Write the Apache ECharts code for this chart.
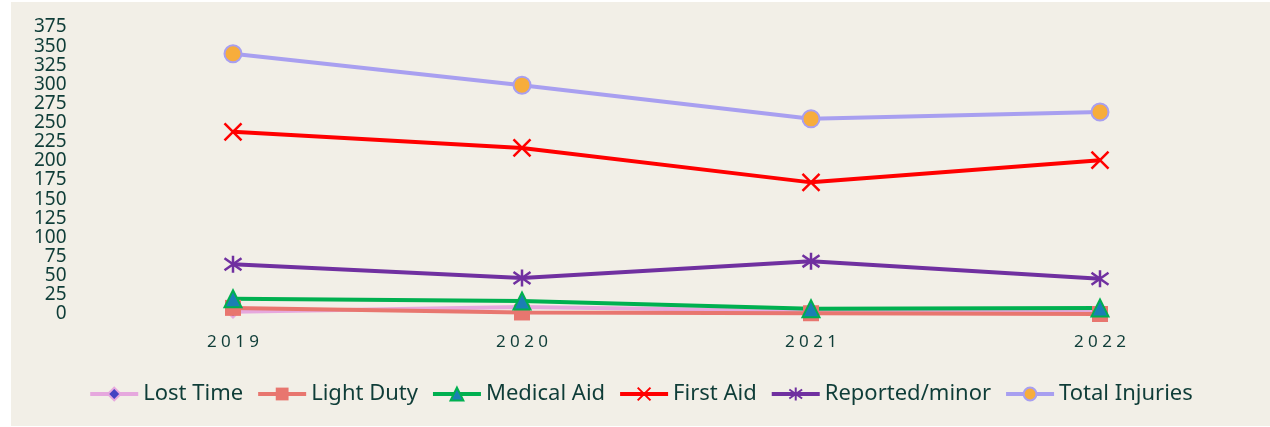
<!DOCTYPE html>
<html>
<head>
<meta charset="utf-8">
<script src="https://cdn.jsdelivr.net/npm/echarts@6/dist/echarts.min.js"></script>
<style>
  body { margin: 0; background: #fff; }
  #chart { position: absolute; left: 11px; top: 2px; width: 1259px; height: 424px; background: #f2efe7; }
</style>
</head>
<body>
<div id="chart"></div>
<script>
// values
const years = ['2019', '2020', '2021', '2022'];
const lostTime = [3, 9, 4, 4];
const lightDuty = [8, 2, 1, 0];
const medicalAid = [20, 17, 7, 8];
const firstAid = [238, 217, 172, 201];
const reportedMinor = [65, 47, 69, 46];
const totalInjuries = [340, 299, 255, 264];

const textColor = '#0f3d38';
const font = '"Noto Sans", sans-serif';

let chart = echarts.init(document.getElementById('chart'));

function line(name, data, color, symbol, size, itemStyle) {
    return {
        name: name,
        type: 'line',
        data: data,
        symbol: symbol,
        symbolSize: size,
        lineStyle: { color: color, width: 4 },
        itemStyle: itemStyle,
        emphasis: { disabled: true }
    };
}

let option = {
    animation: false,
    grid: { left: 77.5, right: 25.5, top: 25, bottom: 112 },
    legend: {
        bottom: 16,
        left: 'center',
        itemWidth: 48,
        itemHeight: 16,
        itemGap: 13,
        lineStyle: { width: 4 },
        textStyle: { color: textColor, fontSize: 22, fontFamily: font }
    },
    xAxis: {
        type: 'category',
        data: years,
        axisLine: { show: false },
        axisTick: { show: false },
        axisLabel: {
            color: textColor,
            fontSize: 17,
            fontFamily: font,
            margin: 20,
            formatter: v => v.split('').join(' ')
        }
    },
    yAxis: {
        type: 'value',
        min: 0,
        max: 375,
        interval: 25,
        splitLine: { show: false },
        axisLine: { show: false },
        axisTick: { show: false },
        axisLabel: { color: textColor, fontSize: 19, fontFamily: font, margin: 22 }
    },
    series: [
        line('Lost Time', lostTime, '#e6a8de', 'diamond', 12,
            { color: '#4343c2', borderColor: '#e6a8de', borderWidth: 2 }),
        line('Light Duty', lightDuty, '#e8766f', 'rect', 16,
            { color: '#e8766f', borderColor: '#e8766f', borderWidth: 0 }),
        line('Medical Aid', medicalAid, '#00b050', 'triangle', 17,
            { color: '#1b7fb4', borderColor: '#00b050', borderWidth: 2 }),
        line('First Aid', firstAid, '#ff0000', 'path://M0,0L10,10M10,0L0,10', 17,
            { color: '#ff0000', borderColor: '#ff0000', borderWidth: 2.5 }),
        line('Reported/minor', reportedMinor, '#7030a0', 'path://M5,0L5,10M0.7,1.5L9.3,8.5M0.7,8.5L9.3,1.5', 17,
            { color: '#7030a0', borderColor: '#7030a0', borderWidth: 2.5 }),
        line('Total Injuries', totalInjuries, '#a89ff0', 'circle', 17,
            { color: '#f7ad3c', borderColor: '#a89ff0', borderWidth: 2 })
    ]
};

chart.setOption(option);
</script>
</body>
</html>
